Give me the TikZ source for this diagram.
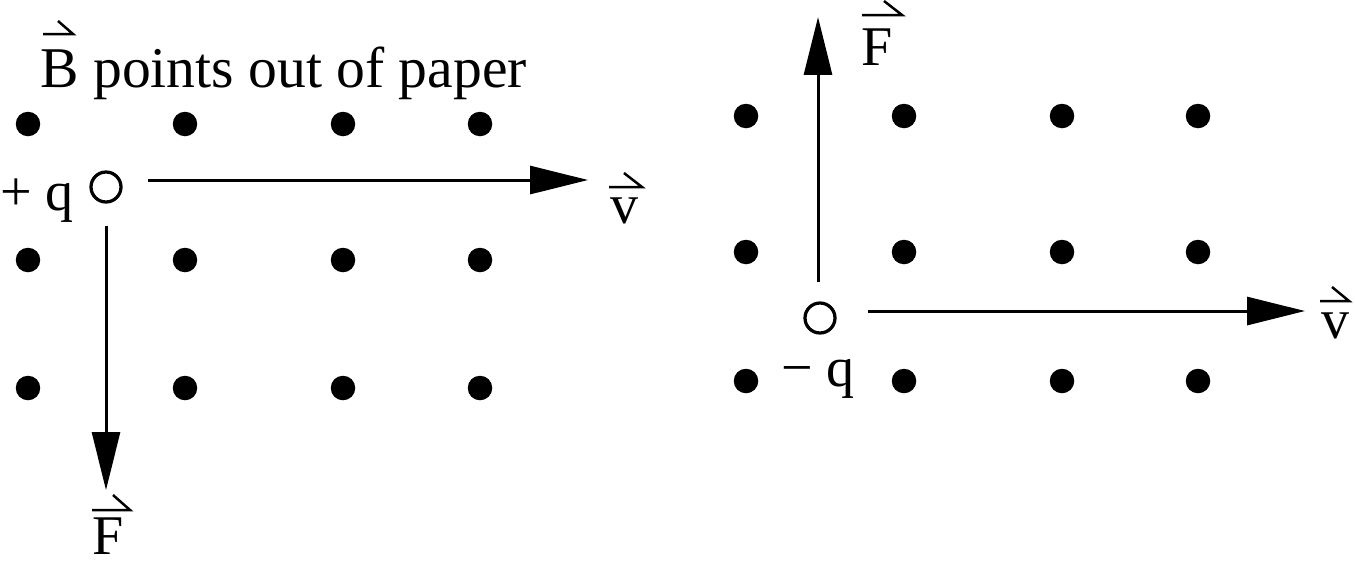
\documentclass[tikz,border=0pt]{standalone}
\usepackage{fontspec}
\setmainfont{Liberation Serif}
\usetikzlibrary{arrows.meta}
\begin{document}
\begin{tikzpicture}[x=0.02cm,y=-0.02cm,
  every node/.style={font=\fontsize{31.9}{36}\selectfont, inner sep=0pt},
  fdot/.style={circle, fill=black, minimum size=0.49cm, inner sep=0pt},
  charge/.style={circle, draw=black, line width=0.065cm, minimum size=0.6cm, inner sep=0pt},
  vec/.style={line width=0.06cm, -{Triangle[length=1.16cm,width=0.56cm]}},
  harp/.style={line width=0.05cm}]
\useasboundingbox (0,0) rectangle (1355,562);
% title
\node[anchor=base west, font=\fontsize{32.8}{36}\selectfont] (title) at (40,87) {B points out of paper};
\draw[harp] (43,34) -- (73,34) -- (58,21);
% left panel dots
\foreach \x [count=\i] in {28,185,343,480}
  \foreach \y [count=\j] in {124,260,388}
    \node[fdot] (L\i\j) at (\x,\y) {};
% left charge
\node[charge] (qp) at (106,187) {};
\node[anchor=base west] (qplab) at (0,210) {+ q};
\coordinate (vL) at (588,180);
\coordinate (FL) at (106,490);
\draw[vec] (148,180) -- (vL);
\draw[vec] (qp.south) ++(0,22) -- (FL);
% left labels
\node[anchor=base] (vLlab) at (625,223) {v};
\draw[harp] (609,187) -- (642,187) -- (624,173);
\node[anchor=base west, text depth=0pt] (FLlab) at (92,554) {F};
\draw[harp] (92,510) -- (130,510) -- (113,495);
% right panel dots
\foreach \x [count=\i] in {746,904,1062,1198}
  \foreach \y [count=\j] in {116,252,381}
    \node[fdot] (R\i\j) at (\x,\y) {};
% right charge
\node[charge] (qm) at (820,318) {};
\node[anchor=base west] (qmlab) at (781,386) {− q};
\coordinate (vR) at (1305,311);
\coordinate (FR) at (818,17);
\draw[vec] (868,311) -- (vR);
\draw[vec] (818,282) -- (FR);
% right labels
\node[anchor=base] (vRlab) at (1335,338) {v};
\draw[harp] (1320,301) -- (1349,301) -- (1332,287);
\node[anchor=base west] (FRlab) at (861,65) {F};
\draw[harp] (862,15) -- (902,15) -- (884,1);
\end{tikzpicture}
\end{document}
